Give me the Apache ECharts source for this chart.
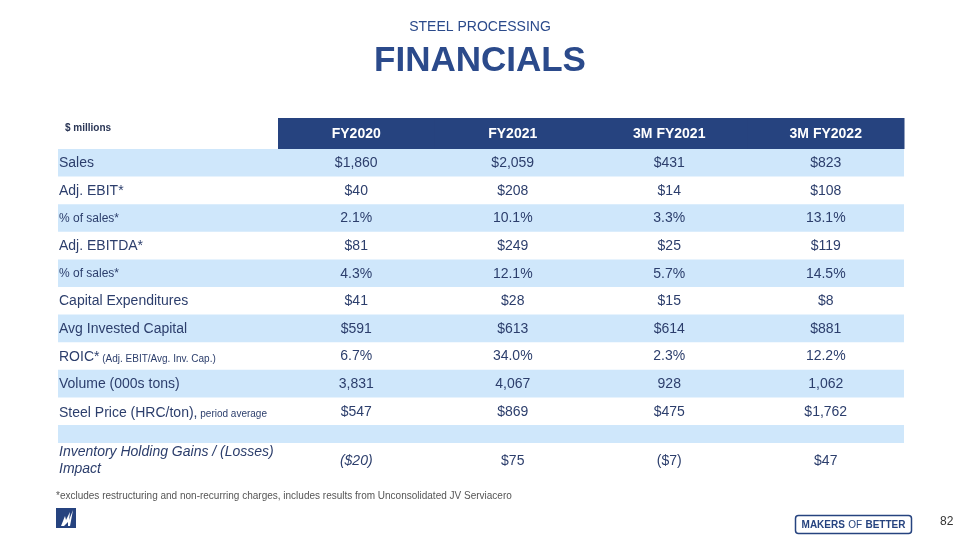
<!DOCTYPE html>
<html><head><meta charset="utf-8">
<script src="https://cdn.jsdelivr.net/npm/echarts@6/dist/echarts.min.js"></script>
<style>html,body{margin:0;padding:0;background:#fff}#c{width:960px;height:540px}</style>
</head><body><div id="c"></div>
<script>
// ---------- DATA ----------
const unitLabel = '$ millions';
const columns = ['FY2020', 'FY2021', '3M FY2021', '3M FY2022'];
const rowLabels = ['Sales', 'Adj. EBIT*', '% of sales*', 'Adj. EBITDA*', '% of sales*',
  'Capital Expenditures', 'Avg Invested Capital', 'ROIC*', 'Volume (000s tons)',
  'Steel Price (HRC/ton),', '', 'Inventory Holding Gains / (Losses)\nImpact'];
const rowNotes = ['', '', '', '', '', '', '', ' (Adj. EBIT/Avg. Inv. Cap.)', '', ' period average', '', ''];
const rowFormats = ['usd', 'usd', 'pct', 'usd', 'pct', 'usd', 'usd', 'pct', 'num', 'usd', 'none', 'usd'];
const fy2020 = [1860, 40, 2.1, 81, 4.3, 41, 591, 6.7, 3831, 547, null, -20];
const fy2021 = [2059, 208, 10.1, 249, 12.1, 28, 613, 34.0, 4067, 869, null, 75];
const q1fy2021 = [431, 14, 3.3, 25, 5.7, 15, 614, 2.3, 928, 475, null, -7];
const q1fy2022 = [823, 108, 13.1, 119, 14.5, 8, 881, 12.2, 1062, 1762, null, 47];
const seriesValues = [fy2020, fy2021, q1fy2021, q1fy2022];
const footnote = '*excludes restructuring and non-recurring charges, includes results from Unconsolidated JV Serviacero';

// ---------- LAYOUT / STYLE ----------
const colWidths = [220, 156.5, 156.5, 156.5, 156.5];
const rowHeights = [31, 27.6, 27.6, 27.6, 27.6, 27.6, 27.6, 27.6, 27.6, 27.6, 27.6, 18, 35];
const colEdges = [0]; colWidths.forEach(w => colEdges.push(colEdges[colEdges.length - 1] + w));
const rowEdges = [0]; rowHeights.forEach(h => rowEdges.push(rowEdges[rowEdges.length - 1] + h));
const totalW = colEdges[colEdges.length - 1];
const totalH = rowEdges[rowEdges.length - 1];
const FONT = '"Liberation Sans", Arial, sans-serif';
const NAVY = '#26437F';
const BAND = '#CFE7FB';
const TXT = '#2C3E6C';

function fmt(v, kind) {
  if (v === null || kind === 'none') return '';
  if (kind === 'pct') return v.toFixed(1) + '%';
  if (kind === 'num') return v.toLocaleString('en-US');
  const s = '$' + Math.abs(v).toLocaleString('en-US');
  return v < 0 ? '(' + s + ')' : s;
}

function cell(api, c, r) {
  const a = api.coord([colEdges[c], rowEdges[r]]);
  const b = api.coord([colEdges[c + 1], rowEdges[r + 1]]);
  return {x: a[0], y: a[1], w: b[0] - a[0], h: b[1] - a[1]};
}

const bandData = rowLabels.map((_, i) => [0, i + 1]).filter((d, i) => i % 2 === 0);
const headerData = columns.map((name, i) => [i + 1, 0, name]);
const labelData = rowLabels.map((t, i) => [0, i + 1, t]);
const valueData = [];
seriesValues.forEach((arr, c) => arr.forEach((v, r) => valueData.push([c + 1, r + 1, fmt(v, rowFormats[r])])));

const chart = echarts.init(document.getElementById('c'), null, {renderer: 'canvas'});
chart.setOption({
  animation: false,
  backgroundColor: '#fff',
  grid: {left: 58, top: 118, width: totalW, height: totalH, containLabel: false},
  xAxis: {type: 'value', min: 0, max: totalW, show: false},
  yAxis: {type: 'value', min: 0, max: totalH, inverse: true, show: false},
  series: [
    {
      type: 'custom', name: 'bands', silent: true, z: 1, data: bandData,
      renderItem: (p, api) => {
        const r = api.value(1);
        const a = api.coord([0, rowEdges[r]]);
        const b = api.coord([totalW, rowEdges[r + 1]]);
        return {type: 'rect', shape: {x: a[0], y: a[1], width: b[0] - a[0], height: b[1] - a[1]}, style: {fill: BAND}};
      }
    },
    {
      type: 'custom', name: 'header', silent: true, z: 2, data: headerData,
      renderItem: (p, api) => {
        const c = api.value(0);
        const k = cell(api, c, 0);
        const children = [
          {type: 'rect', shape: {x: k.x, y: k.y, width: k.w + 0.5, height: k.h}, style: {fill: NAVY}},
          {type: 'text', style: {text: columns[c - 1], x: k.x + k.w / 2, y: k.y + k.h / 2 + 1, align: 'center', verticalAlign: 'middle',
            fill: '#fff', fontSize: 14, fontWeight: 'bold', fontFamily: FONT}}
        ];
        if (c === 1) {
          const u = cell(api, 0, 0);
          children.push({type: 'text', style: {text: unitLabel, x: u.x + 7, y: u.y + 10, align: 'left', verticalAlign: 'middle',
            fill: '#2A3656', fontSize: 10, fontWeight: 'bold', fontFamily: FONT}});
        }
        return {type: 'group', children};
      }
    },
    {
      type: 'custom', name: 'labels', silent: true, z: 3, data: labelData,
      renderItem: (p, api) => {
        const r = api.value(1);
        const i = r - 1;
        const k = cell(api, 0, r);
        const label = rowLabels[i];
        if (!label) return null;
        const small = label.indexOf('% of') === 0;
        const italic = i === rowLabels.length - 1;
        const note = rowNotes[i];
        const style = {x: k.x + 1, y: k.y + k.h / 2 + 0.5, align: 'left', verticalAlign: 'middle', fill: TXT, fontFamily: FONT};
        if (note) {
          style.text = '{m|' + label + '}{s|' + note + '}';
          style.rich = {
            m: {fontSize: 14, fontFamily: FONT, fill: TXT, verticalAlign: 'bottom', lineHeight: 16},
            s: {fontSize: 10, fontFamily: FONT, fill: TXT, verticalAlign: 'bottom', lineHeight: 14}
          };
        } else {
          style.text = label;
          style.fontSize = small ? 12 : 14;
          if (italic) { style.fontStyle = 'italic'; style.lineHeight = 17; }
        }
        return {type: 'text', style};
      }
    },
    {
      type: 'custom', name: 'values', silent: true, z: 3, data: valueData,
      renderItem: (p, api) => {
        const c = api.value(0), r = api.value(1);
        const text = valueData[p.dataIndex][2];
        if (!text) return null;
        const k = cell(api, c, r);
        const italic = (r === rowLabels.length && c === 1);
        return {type: 'text', style: {text, x: k.x + k.w / 2, y: k.y + k.h / 2 + 0.5, align: 'center', verticalAlign: 'middle',
          fill: TXT, fontSize: 14, fontFamily: FONT, fontStyle: italic ? 'italic' : 'normal'}};
      }
    }
  ],
  graphic: [
    {type: 'text', left: 'center', top: 20, style: {text: 'STEEL PROCESSING', fill: '#2B4A8B', fontSize: 14, fontFamily: FONT}},
    {type: 'text', left: 'center', top: 44, style: {text: 'FINANCIALS', fill: '#2B4A8B', fontSize: 35, fontWeight: 'bold', fontFamily: FONT}},
    {type: 'text', left: 56, top: 491, style: {text: footnote, fill: '#555', fontSize: 10, fontFamily: FONT}},
    {type: 'group', left: 56, top: 508, children: [
      {type: 'rect', shape: {x: 0, y: 0, width: 20, height: 20}, style: {fill: NAVY}},
      {type: 'polygon', shape: {points: [[5, 18], [9, 8], [10, 12], [14, 4], [13, 12], [17, 2], [14, 18], [12, 18], [12, 14], [8, 18]]}, style: {fill: '#fff'}}
    ]},
    {type: 'group', left: 793, top: 513, children: [
      {type: 'rect', shape: {x: 0, y: 0, width: 116, height: 18, r: 3}, style: {fill: 'none', stroke: NAVY, lineWidth: 1.5}},
      {type: 'text', x: 58, y: 9.5, style: {text: '{b|MAKERS} {l|OF} {b|BETTER}', align: 'center', verticalAlign: 'middle',
        rich: {b: {fontSize: 10, fontWeight: 'bold', fontFamily: FONT, fill: NAVY}, l: {fontSize: 10, fontFamily: FONT, fill: NAVY}}}}
    ]},
    {type: 'text', left: 940, top: 516, style: {text: '82', fill: '#333', fontSize: 12, fontFamily: FONT}}
  ]
});
</script>
</body></html>
